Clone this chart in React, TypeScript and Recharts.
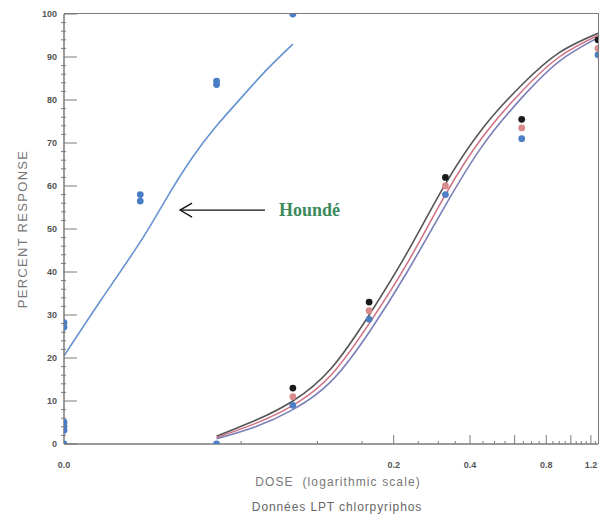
import React from "react";
import { ComposedChart, Line, Scatter, XAxis, YAxis, ReferenceLine } from "recharts";

// Houndé strain: observed mortality and fitted probit curve
const houndeDose = [0.01, 0.01, 0.01, 0.01, 0.01, 0.01, 0.02, 0.02, 0.04, 0.04, 0.08];
const houndeResp = [0, 3.2, 4.1, 5.1, 27.2, 28.2, 56.5, 58, 83.6, 84.4, 100];
const houndeFitDose = [0.01, 0.014, 0.02, 0.025, 0.032, 0.04, 0.05, 0.063, 0.08];
const houndeFitResp = [20.5, 33.5, 47, 56.5, 66.5, 74, 80.5, 87, 93];

// second group (three replicates: black, red, blue)
const groupDose = [0.08, 0.16, 0.32, 0.64, 1.28];
const blackResp = [13, 33, 62, 75.5, 94];
const redResp = [11, 31, 60, 73.5, 92];
const blueDose = [0.04, 0.08, 0.16, 0.32, 0.64, 1.28];
const blueResp = [0, 9, 29, 58, 71, 90.5];

const fitDose = [0.04, 0.057, 0.08, 0.113, 0.16, 0.226, 0.32, 0.45, 0.64, 0.9, 1.28];
const fitBlack = [1.8, 5.5, 10, 17.5, 30, 44.5, 60.5, 73.5, 83.5, 91, 95.5];
const fitRed = [1.5, 4.8, 9, 16, 28, 42, 58, 71.5, 82, 90, 95];
const fitBlue = [1.2, 4, 8, 14.5, 26, 40, 55.5, 69.5, 80.5, 89, 94.5];

const yTicks = [0, 2, 4, 6, 8, 10, 12, 14, 16, 18, 20, 22, 24, 26, 28, 30, 32, 34, 36, 38, 40, 42, 44, 46, 48, 50,
  52, 54, 56, 58, 60, 62, 64, 66, 68, 70, 72, 74, 76, 78, 80, 82, 84, 86, 88, 90, 92, 94, 96, 98, 100];
const xTicks = [0.01, 0.05, 0.1, 0.15, 0.2, 0.25, 0.3, 0.35, 0.4, 0.45, 0.5, 0.55, 0.6, 0.65, 0.7, 0.75, 0.8,
  0.85, 0.9, 0.95, 1.0, 1.05, 1.1, 1.15, 1.2, 1.25];
const xMajor = [0.2, 0.4, 0.6, 0.8, 1.0, 1.2];
const xLabeled = [0.01, 0.2, 0.4, 0.8, 1.2];

const arrowDose = [0.0287, 0.0621];
const arrowResp = 54.4;
const annotation = "Houndé";

const zip = (xs: number[], ys: number[]) => xs.map((d, i) => ({ dose: d, v: ys[i] }));

const AXIS = "#7a7a7a";
const TICK_FONT = { fontFamily: "Liberation Sans, Arial, sans-serif", fontSize: 9, fontWeight: 700, fill: "#555" };

const LeftTick = (p: any) => {
  const v = p.payload.value;
  const major = v % 10 === 0;
  return (
    <g>
      {major ? (
        <line x1={p.x} x2={p.x + 13} y1={p.y} y2={p.y} stroke={AXIS} />
      ) : (
        <line x1={p.x - 3} x2={p.x + 2} y1={p.y} y2={p.y} stroke={AXIS} />
      )}
      {major && (
        <text x={p.x - 7} y={p.y + 3} textAnchor="end" {...TICK_FONT}>
          {v}
        </text>
      )}
    </g>
  );
};

const BottomTick = (p: any) => {
  const v = p.payload.value;
  const major = xMajor.some((m) => Math.abs(m - v) < 1e-9);
  const labeled = xLabeled.some((m) => Math.abs(m - v) < 1e-9);
  return (
    <g>
      {v > 0.011 && <line x1={p.x} x2={p.x} y1={p.y} y2={p.y - (major ? 9 : 3)} stroke={AXIS} />}
      {labeled && (
        <text x={p.x} y={p.y + 24} textAnchor="middle" {...TICK_FONT}>
          {v.toFixed(1)}
        </text>
      )}
    </g>
  );
};

const dot = (color: string) => (p: any) => <circle cx={p.cx} cy={p.cy} r={3.4} fill={color} />;

const Arrow = (p: any) => {
  const { x1, y1, x2 } = p;
  const left = Math.min(x1, x2);
  const right = Math.max(x1, x2);
  return (
    <g>
      <line x1={left} x2={right} y1={y1} y2={y1} stroke="#111" strokeWidth={1.3} />
      <polyline points={`${left + 12},${y1 - 7} ${left},${y1} ${left + 12},${y1 + 7}`} fill="none" stroke="#111" strokeWidth={1.3} />
      <text x={right + 14} y={y1 + 6} fontFamily="Liberation Serif, Times New Roman, serif" fontWeight={700} fontSize={18} fill="#3d8a5c">
        {annotation}
      </text>
    </g>
  );
};

export default function App() {
  return (
    <div style={{ position: "absolute", left: 0, top: 0, width: 600, height: 517, background: "#fff" }}>
      <ComposedChart width={600} height={517} margin={{ top: 14, right: 2, left: 0, bottom: 13 }}>
        <XAxis
          dataKey="dose"
          type="number"
          scale="log"
          domain={[0.01, 1.28]}
          allowDataOverflow
          ticks={xTicks}
          interval={0}
          tick={<BottomTick />}
          tickSize={0}
          tickMargin={0}
          tickLine={false}
          axisLine={{ stroke: AXIS, strokeWidth: 1.5 }}
          height={60}
        />
        <YAxis
          dataKey="v"
          type="number"
          domain={[0, 100]}
          allowDataOverflow
          ticks={yTicks}
          interval={0}
          tick={<LeftTick />}
          tickSize={0}
          tickMargin={0}
          tickLine={false}
          axisLine={{ stroke: AXIS, strokeWidth: 1.5 }}
          width={64}
        />
        <Line data={zip(houndeFitDose, houndeFitResp)} dataKey="v" type="natural"
          stroke="#6593d0" strokeWidth={1.6} dot={false} isAnimationActive={false} />
        <Line data={zip(fitDose, fitBlack)} dataKey="v" type="natural"
          stroke="#555" strokeWidth={1.6} dot={false} isAnimationActive={false} />
        <Line data={zip(fitDose, fitRed)} dataKey="v" type="natural"
          stroke="#cf6f82" strokeWidth={1.5} dot={false} isAnimationActive={false} />
        <Line data={zip(fitDose, fitBlue)} dataKey="v" type="natural"
          stroke="#7a7fb8" strokeWidth={1.6} dot={false} isAnimationActive={false} />
        <Scatter data={zip(houndeDose, houndeResp)} dataKey="v" shape={dot("#4a7ec4")} isAnimationActive={false} />
        <Scatter data={zip(blueDose, blueResp)} dataKey="v" shape={dot("#4f80c6")} isAnimationActive={false} />
        <Scatter data={zip(groupDose, redResp)} dataKey="v" shape={dot("#d98a8c")} isAnimationActive={false} />
        <Scatter data={zip(groupDose, blackResp)} dataKey="v" shape={dot("#1a1a1a")} isAnimationActive={false} />
        <ReferenceLine
          segment={[{ x: arrowDose[0], y: arrowResp }, { x: arrowDose[1], y: arrowResp }]}
          shape={(p: any) => <Arrow {...p} />}
        />
      </ComposedChart>
      {/* top and right edges of the plot frame */}
      <div
        style={{
          position: "absolute", left: 64, top: 13.25, width: 534.75, height: 430.75, boxSizing: "border-box",
          borderTop: `1.5px solid ${AXIS}`, borderRight: `1.5px solid ${AXIS}`, pointerEvents: "none",
        }}
      />
      <div
        style={{
          position: "absolute", left: 22, top: 229, transform: "translate(-50%, -50%) rotate(-90deg)",
          whiteSpace: "nowrap", fontFamily: "Liberation Sans, Arial, sans-serif", fontSize: 13,
          letterSpacing: 1.3, color: "#777",
        }}
      >
        PERCENT RESPONSE
      </div>
      <div
        style={{
          position: "absolute", left: 338, top: 482, transform: "translate(-50%, -50%)", whiteSpace: "pre",
          fontFamily: "Liberation Sans, Arial, sans-serif", fontSize: 12, letterSpacing: 1.1, color: "#777",
        }}
      >
        {"DOSE  (logarithmic scale)"}
      </div>
      <div
        style={{
          position: "absolute", left: 337, top: 507, transform: "translate(-50%, -50%)", whiteSpace: "nowrap",
          fontFamily: "Liberation Sans, Arial, sans-serif", fontSize: 12, letterSpacing: 0.9, color: "#666",
        }}
      >
        Données LPT chlorpyriphos
      </div>
    </div>
  );
}
